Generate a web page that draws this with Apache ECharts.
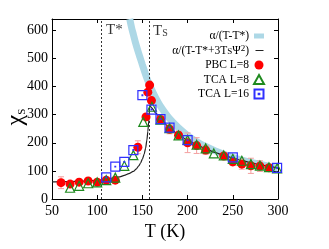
<!DOCTYPE html>
<html><head><meta charset="utf-8">
<script src="https://cdn.jsdelivr.net/npm/echarts@6/dist/echarts.min.js"></script>
<style>html,body{margin:0;padding:0;background:#fff}#c{width:329px;height:249px}</style>
</head><body><div id="c"></div>
<script>
// ---- data ----
const xTicks = [50, 100, 150, 200, 250, 300];
const yTicks = [0, 100, 200, 300, 400, 500, 600];
const tStar = 105;
const tS = 158;

const pbcT   = [60, 70, 80, 90, 100, 110, 120, 145, 154, 156, 158, 160, 170, 180, 190, 200, 210, 220, 240, 250, 260, 270, 280, 290];
const pbcChi = [58, 53, 60, 64, 60, 67, 67, 184, 292, 380, 405, 350, 283, 248, 227, 200, 190, 174, 153, 132, 124, 118, 117, 111];
const pbcErr = [21, 8, 8, 6, 6, 5, 5, 23, 5, 5, 5, 8, 12, 16, 14, 35, 28, 15, 8, 13, 18, 27, 19, 6];

const tca8T   = [70, 80, 90, 100, 110, 120, 130, 140, 151, 160.5, 170, 180, 190, 200, 210, 220, 229, 240, 250, 260, 270, 280, 290, 299];
const tca8Chi = [40, 47, 56, 59, 67, 76, 118, 156, 274, 328, 282, 252, 226, 210, 193, 180, 162, 155, 143, 136, 124, 119, 113, 109];

const tca16T   = [110, 120, 130, 140, 150, 160, 170, 180, 200, 250, 299];
const tca16Chi = [77, 115, 132, 174, 369, 318, 284, 254, 209, 148, 111];

// thick light-blue curve  alpha/(T-T*)
const fitT   = [136, 138, 140, 142, 145, 148, 150, 155, 160, 165, 170, 180, 190, 200, 210, 220, 230, 240, 250, 260, 270, 280, 290, 300];
const fitChi = [640, 610, 585, 560, 527, 497, 477, 429, 390, 358, 330, 286, 253, 226, 204, 187, 172, 159, 148, 138, 130, 123, 116, 110];

// thin black curve alpha/(T-T*+3Ts Psi^2)
const fullT   = [50, 60, 70, 80, 90, 100, 105, 110, 115, 120, 125, 130, 135, 140, 143, 146, 148, 150, 152, 153.5, 155, 156, 157, 157.5, 158, 159, 160, 165, 170, 180, 190, 200, 210, 220, 230, 240, 250, 260, 270, 280, 290, 300];
const fullChi = [61, 62, 62, 63, 64, 66, 68, 70, 73, 76, 79, 84, 90, 98, 106, 118, 128, 142, 160, 180, 210, 240, 275, 300, 330, 329, 325, 305, 285, 254, 229, 209, 193, 178, 166, 155, 146, 137, 129, 122, 116, 110];

const names = ['α/(T-T*)', 'α/(T-T*+3TSΨ2)', 'PBC L=8', 'TCA L=8', 'TCA L=16'];

// ---- chart ----
const serif = 'Liberation Serif, Times New Roman, serif';
const zip = (a, b) => a.map((v, i) => [v, b[i]]);

const axisCommon = {
  type: 'value',
  axisLine: { show: true, onZero: false, lineStyle: { color: '#000', width: 1 } },
  axisTick: { show: true, inside: true, length: 4, lineStyle: { color: '#000' } },
  splitLine: { show: false }
};

const chart = echarts.init(document.getElementById('c'), null, { renderer: 'canvas' });
chart.setOption({
  animation: false,
  backgroundColor: '#fff',
  grid: { left: 52, right: 51, top: 19, bottom: 50, containLabel: false, outerBoundsMode: 'none' },
  graphic: [{
    type: 'text', x: 16, y: 117, rotation: Math.PI / 2, silent: true,
    style: {
      text: '{c|χ}{s|S}', align: 'center', verticalAlign: 'middle', fill: '#000',
      rich: {
        c: { fontSize: 24, fontFamily: serif, fill: '#000' },
        s: { fontSize: 11, fontFamily: serif, fill: '#000', verticalAlign: 'bottom' }
      }
    }
  }],
  xAxis: [
    Object.assign({}, axisCommon, {
      min: xTicks[0], max: xTicks[xTicks.length - 1], interval: 50,
      axisLabel: { color: '#000', fontFamily: serif, fontSize: 14, margin: 5 },
      name: 'T (K)', nameLocation: 'middle', nameGap: 19,
      nameTextStyle: { color: '#000', fontFamily: serif, fontSize: 18 }
    }),
    Object.assign({}, axisCommon, {
      position: 'top', min: xTicks[0], max: xTicks[xTicks.length - 1], interval: 50,
      axisLabel: { show: false }
    })
  ],
  yAxis: [
    Object.assign({}, axisCommon, {
      min: 0, max: 640, interval: 100,
      axisLabel: {
        color: '#000', fontFamily: serif, fontSize: 14, margin: 4,
        showMaxLabel: false,
        formatter: v => (yTicks.indexOf(v) >= 0 ? String(v) : '')
      }
    }),
    Object.assign({}, axisCommon, {
      position: 'right', min: 0, max: 640, interval: 100,
      axisLabel: { show: false }
    })
  ],
  legend: {
    orient: 'vertical', right: 59, top: 25, align: 'right',
    itemWidth: 10, itemHeight: 9, itemGap: 2.5,
    formatter: name => {
      if (name === names[1]) return '{n|α/(T-T*+3T}{sub|S}{n|Ψ}{sup|2}{n|)}';
      return '{n|' + name + '}';
    },
    textStyle: {
      fontFamily: serif, fontSize: 11.5, color: '#000',
      rich: {
        n: { fontFamily: serif, fontSize: 11.5, color: '#000' },
        sub: { fontFamily: serif, fontSize: 9, color: '#000', verticalAlign: 'bottom' },
        sup: { fontFamily: serif, fontSize: 9, color: '#000', verticalAlign: 'top' }
      }
    },
    data: [
      { name: names[0], icon: 'path://M0,0Z M0,2H10V7H0Z M0,9Z', itemStyle: { color: '#add8e6' } },
      { name: names[1], icon: 'path://M0,0Z M1,4H9V5H1Z M0,9Z', itemStyle: { color: '#222' } },
      { name: names[2] },
      { name: names[3] },
      { name: names[4] }
    ]
  },
  series: [
    {
      name: names[0], type: 'line', data: zip(fitT, fitChi),
      symbol: 'none', smooth: 0.3, clip: true,
      lineStyle: { color: '#add8e6', width: 7 }, itemStyle: { color: '#add8e6' }, z: 1
    },
    {
      name: names[1], type: 'line', data: zip(fullT, fullChi),
      symbol: 'none', smooth: 0.25, smoothMonotone: 'x',
      lineStyle: { color: '#222', width: 1.2 }, itemStyle: { color: '#222' }, z: 2,
      markLine: {
        silent: true, symbol: 'none', label: { show: false },
        lineStyle: { color: '#333', width: 1, type: [2, 2] },
        data: [{ xAxis: tStar }, { xAxis: tS }]
      }
    },
    {
      name: 'annot', type: 'scatter', symbolSize: 0, silent: true, z: 3,
      data: [[119, 600, 'T*'], [170, 598, 'TS']],
      label: {
        show: true, position: 'inside', color: '#000',
        formatter: p => (p.data[2] === 'T*' ? '{a|T*}' : '{a|T}{b|S}'),
        rich: {
          a: { fontFamily: serif, fontSize: 15, color: '#000' },
          b: { fontFamily: serif, fontSize: 10, color: '#000', verticalAlign: 'bottom' }
        }
      }
    },
    {
      name: 'err', type: 'custom', z: 4, silent: true,
      data: pbcT.map((t, i) => [t, pbcChi[i], pbcErr[i]]),
      renderItem: (params, api) => {
        const x = api.value(0), y = api.value(1), e = api.value(2);
        const a = api.coord([x, y + e]), b = api.coord([x, y - e]);
        const w = 3;
        const st = { stroke: '#f4a0a0', lineWidth: 1 };
        return {
          type: 'group', children: [
            { type: 'line', shape: { x1: a[0], y1: a[1], x2: b[0], y2: b[1] }, style: st },
            { type: 'line', shape: { x1: a[0] - w, y1: a[1], x2: a[0] + w, y2: a[1] }, style: st },
            { type: 'line', shape: { x1: b[0] - w, y1: b[1], x2: b[0] + w, y2: b[1] }, style: st }
          ]
        };
      }
    },
    {
      name: names[2], type: 'scatter', data: zip(pbcT, pbcChi), z: 5,
      symbol: 'circle', symbolSize: 9, itemStyle: { color: '#ff0000', opacity: 1 }
    },
    {
      name: names[3], type: 'scatter', data: zip(tca8T, tca8Chi), z: 6,
      symbol: 'triangle', symbolSize: 9,
      itemStyle: { color: 'rgba(0,0,0,0)', borderColor: '#1f8a1f', borderWidth: 1.2, opacity: 1 }
    },
    {
      name: names[4], type: 'scatter', data: zip(tca16T, tca16Chi), z: 7,
      symbol: 'path://M0,0H10V10H0Z M4.6,4.6H5.4V5.4H4.6Z', symbolSize: 9,
      itemStyle: { color: 'rgba(0,0,0,0)', borderColor: '#3030ff', borderWidth: 1.2, opacity: 1 }
    }
  ]
});
</script>
</body></html>
